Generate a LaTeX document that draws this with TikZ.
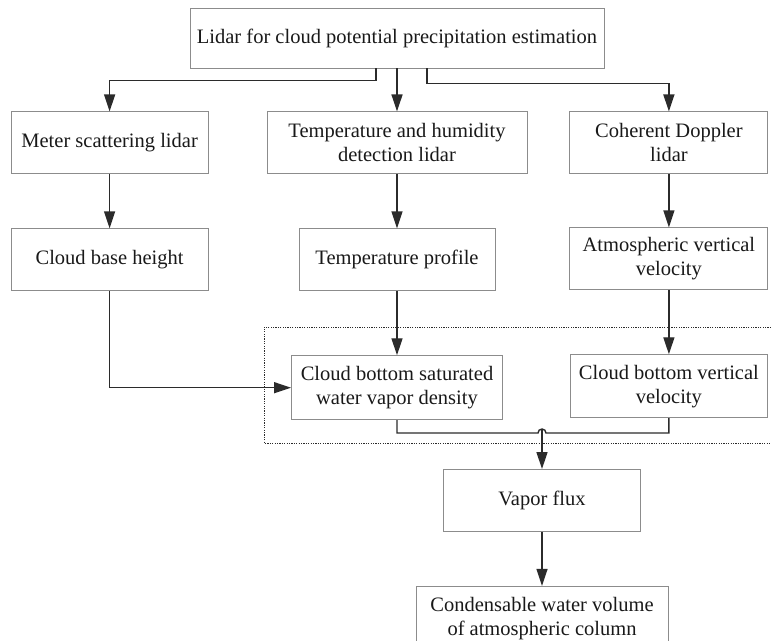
\documentclass[tikz,border=0pt]{standalone}
\usepackage{fontspec}
\setmainfont{Liberation Serif}
\usetikzlibrary{positioning,arrows.meta}
\definecolor{boxgray}{HTML}{8C8C8C}
\definecolor{linegray}{HTML}{2B2B2B}

\begin{document}
\begin{tikzpicture}[x=1pt, y=-1pt,
    box/.style={draw=boxgray, line width=0.9pt, rectangle, inner sep=0pt, align=center,
        font=\fontsize{20.5}{24}\selectfont, text=black!90},
    arr/.style={draw=linegray, line width=1.4pt, -{Triangle[length=17pt,width=11pt]}}]

    \useasboundingbox (0,0) rectangle (771,640);

    % Titel
    \node [box, minimum width=414pt, minimum height=60pt] (lidar) at (397,38) {Lidar for cloud potential precipitation estimation};

    % Lidar types
    \node [box, minimum width=260pt, minimum height=62pt, below=43pt of lidar] (thlidar) {Temperature and humidity\\detection lidar};
    \node [box, minimum width=197pt, minimum height=62pt, left=58pt of thlidar] (mslidar) {Meter scattering lidar};
    \node [box, minimum width=198pt, minimum height=62pt, right=42pt of thlidar] (cdlidar) {Coherent Doppler\\lidar};

    % Measured quantities
    \node [box, minimum width=197pt, minimum height=62pt, below=54pt of mslidar] (cbh) {Cloud base height};
    \node [box, minimum width=196pt, minimum height=62pt, below=54pt of thlidar] (tprof) {Temperature profile};
    \node [box, minimum width=198pt, minimum height=62pt, below=53pt of cdlidar] (avv) {Atmospheric vertical\\velocity};

    % Cloud bottom quantities (dotted frame)
    \node [box, minimum width=211pt, minimum height=64pt, below=64pt of tprof] (cbsat) {Cloud bottom saturated\\water vapor density};
    \node [box, minimum width=197pt, minimum height=63pt, below=64pt of avv] (cbvv) {Cloud bottom vertical\\velocity};
    \draw [linegray, line width=1pt, dash pattern=on 1.2pt off 1.2pt] (771,327) -- (264,327) -- (264,443) -- (771,443);

    % Flux and result
    \coordinate (jn) at (542,433);
    \node [box, minimum width=197pt, minimum height=62pt, below=36pt of jn] (vflux) {Vapor flux};
    \node [box, minimum width=252pt, minimum height=64pt, below=54pt of vflux] (cwv) {Condensable water volume\\of atmospheric column};

    % Arrows from the title
    \draw [arr] ([xshift=-21pt]lidar.south) -- ++(0,12) -| (mslidar.north);
    \draw [arr] (lidar.south) -- (thlidar.north);
    \draw [arr] ([xshift=30pt]lidar.south) -- ++(0,15) -| (cdlidar.north);

    % Arrows down the columns
    \draw [arr] (mslidar.south) -- (cbh.north);
    \draw [arr] (thlidar.south) -- (tprof.north);
    \draw [arr] (cdlidar.south) -- (avv.north);
    \draw [arr] (tprof.south) -- (cbsat.north);
    \draw [arr] (avv.south) -- (cbvv.north);
    \draw [arr] (cbh.south) |- (cbsat.west);

    % Join with line hop
    \draw [linegray, line width=1.4pt] (cbsat.south) |- ([xshift=-4pt]jn)
        arc [start angle=180, end angle=0, radius=4pt] -| (cbvv.south);
    \draw [arr] ([yshift=4pt]jn) -- (vflux.north);
    \draw [arr] (vflux.south) -- (cwv.north);

\end{tikzpicture}
\end{document}
